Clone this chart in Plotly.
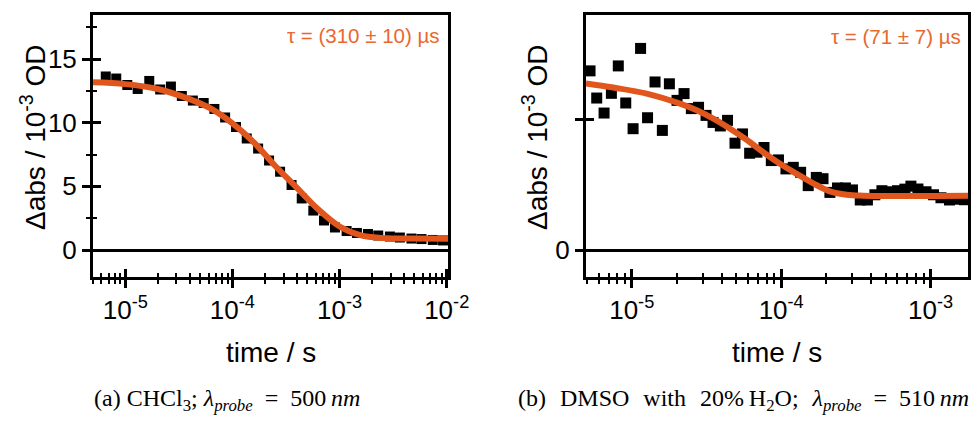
import math
import plotly.graph_objects as go

# ---------------- data ----------------
# (a) CHCl3, probe 500 nm
left_time = [6.58e-6, 8.24e-6, 1.045e-5, 1.306e-5, 1.675e-5, 2.118e-5, 2.667e-5, 3.373e-5,
             4.276e-5, 5.395e-5, 6.79e-5, 8.55e-5, 1.081e-4, 1.361e-4, 1.738e-4, 2.198e-4,
             2.786e-4, 3.565e-4, 4.436e-4, 5.689e-4, 7.161e-4, 9.057e-4, 1.164e-3, 1.452e-3,
             1.841e-3, 2.296e-3, 2.951e-3, 3.656e-3, 4.688e-3, 5.821e-3, 7.413e-3, 9.247e-3]
left_abs = [13.63, 13.47, 12.96, 12.65, 13.28, 12.61, 12.84, 12.10,
            11.74, 11.55, 11.08, 10.41, 9.66, 8.76, 7.97, 7.03,
            6.15, 5.11, 4.05, 3.10, 2.32, 1.77, 1.49, 1.34,
            1.26, 1.14, 1.06, 0.98, 0.90, 0.86, 0.79, 0.75]
left_fit_time = [5.0e-6, 1.0e-5, 2.0e-5, 3.98e-5, 6.31e-5, 1.0e-4, 1.585e-4, 2.512e-4,
                 3.981e-4, 6.31e-4, 1.0e-3, 1.585e-3, 2.512e-3, 5.01e-3, 1.03e-2]
left_fit_abs = [13.17, 13.03, 12.65, 11.85, 11.1, 9.95, 8.45, 6.6,
                4.9, 3.2, 1.85, 1.15, 0.95, 0.90, 0.89]

# (b) DMSO with 20% H2O, probe 510 nm
right_time = [5.26e-6, 5.83e-6, 6.53e-6, 7.31e-6, 8.13e-6, 9.12e-6, 1.021e-5, 1.146e-5,
              1.276e-5, 1.432e-5, 1.603e-5, 1.786e-5, 2.009e-5, 2.239e-5, 2.506e-5, 2.799e-5,
              3.141e-5, 3.499e-5, 3.917e-5, 4.375e-5, 4.909e-5, 5.508e-5, 6.152e-5, 6.887e-5,
              7.674e-5, 8.59e-5, 9.59e-5, 1.076e-4, 1.205e-4, 1.349e-4, 1.517e-4, 1.718e-4,
              1.905e-4, 2.118e-4, 2.382e-4, 2.692e-4, 2.999e-4, 3.381e-4, 3.776e-4, 4.236e-4,
              4.721e-4, 5.346e-4, 5.998e-4, 6.73e-4, 7.379e-4, 8.222e-4, 9.311e-4, 1.045e-3,
              1.172e-3, 1.337e-3, 1.500e-3, 1.683e-3]
right_abs = [1.374, 1.166, 1.051, 1.202, 1.412, 1.128, 0.931, 1.546,
             1.015, 1.289, 0.918, 1.275, 1.148, 1.200, 1.085, 1.095,
             1.033, 0.979, 0.952, 0.995, 0.820, 0.891, 0.743, 0.751,
             0.787, 0.687, 0.692, 0.623, 0.635, 0.597, 0.495, 0.558,
             0.548, 0.443, 0.477, 0.477, 0.462, 0.385, 0.385, 0.425,
             0.456, 0.448, 0.456, 0.468, 0.491, 0.469, 0.448, 0.425,
             0.402, 0.385, 0.391, 0.387]
right_fit_time = [4.94e-6, 7.53e-6, 1.259e-5, 2.104e-5, 2.723e-5, 3.516e-5, 4.55e-5, 5.875e-5,
                  7.586e-5, 9.817e-5, 1.271e-4, 1.641e-4, 2.118e-4, 2.742e-4, 3.54e-4, 1.78e-3]
right_fit_abs = [1.277, 1.246, 1.200, 1.123, 1.072, 1.008, 0.931, 0.846,
                 0.751, 0.662, 0.585, 0.512, 0.451, 0.425, 0.418, 0.418]

left_xticks = [1e-5, 1e-4, 1e-3, 1e-2]
left_xticktext = ["10<sup>-5</sup>", "10<sup>-4</sup>", "10<sup>-3</sup>", "10<sup>-2</sup>"]
right_xticks = [1e-5, 1e-4, 1e-3]
right_xticktext = ["10<sup>-5</sup>", "10<sup>-4</sup>", "10<sup>-3</sup>"]
left_yticks = [0, 5, 10, 15]
left_yminor = [2.5, 7.5, 12.5, 17.5]
right_yticks = [0, 1]
right_yticktext = ["0", ""]

left_label = "τ = (310 ± 10) µs"
right_label = "τ = (71 ± 7) µs"
ytitle = "Δabs / 10<sup>-3</sup> OD"
xtitle = "time / s"
NB = "\u00a0\u00a0\u200a"
caption_a = "(a) CHCl<sub>3</sub>; <i>λ<sub>probe</sub></i>\u2002=\u2002500\u2009<i>nm</i>"
caption_b = ("(b)" + NB + "DMSO" + NB + "with" + NB + "20%\u2009H<sub>2</sub>O;" + NB
             + "<i>λ<sub>probe</sub></i>\u2002=\u2002510\u2009<i>nm</i>")

# ---------------- styling ----------------
W, H = 973, 421
ORANGE = "#E1561D"
TXT_ORANGE = "#E9682E"
SANS = "Liberation Sans, Arial, sans-serif"
SERIF = "Liberation Serif, Times New Roman, serif"


def px(x):
    return x / W


def py(y):
    return 1 - y / H


def minor_log(lo, hi):
    vals = []
    for e in range(-7, 0):
        for k in range(2, 10):
            v = k * 10.0 ** e
            if lo < v < hi:
                vals.append(v)
    return vals


lx_range = [math.log10(5.0e-6), -1.988]
rx_range = [-5.306, -2.75]
ly_range = [-2.12, 18.46]
ry_range = [-0.205, 1.802]
ydom = [1 - 277 / H, 1 - 15 / H]
lxdom = [93 / W, 448 / W]
rxdom = [586 / W, 968 / W]

fig = go.Figure()
fig.add_trace(go.Scatter(x=left_time, y=left_abs, mode="markers", cliponaxis=False,
                         marker=dict(symbol="square", size=10, color="black"),
                         xaxis="x", yaxis="y", showlegend=False))
fig.add_trace(go.Scatter(x=left_fit_time, y=left_fit_abs, mode="lines",
                         line=dict(color=ORANGE, width=6, shape="spline"),
                         xaxis="x", yaxis="y", showlegend=False))
fig.add_trace(go.Scatter(x=right_time, y=right_abs, mode="markers", cliponaxis=False,
                         marker=dict(symbol="square", size=11, color="black"),
                         xaxis="x2", yaxis="y2", showlegend=False))
fig.add_trace(go.Scatter(x=right_fit_time, y=right_fit_abs, mode="lines",
                         line=dict(color=ORANGE, width=6, shape="spline"),
                         xaxis="x2", yaxis="y2", showlegend=False))
# carriers for the inner tick overlays
fig.add_trace(go.Scatter(x=[None], y=[None], xaxis="x3", yaxis="y3", showlegend=False, hoverinfo="skip"))
fig.add_trace(go.Scatter(x=[None], y=[None], xaxis="x4", yaxis="y4", showlegend=False, hoverinfo="skip"))

tickfont = dict(family=SANS, size=26, color="black")
common = dict(showgrid=False, tickcolor="black", tickwidth=2.5, automargin=False)


def xaxis_main(dom, rng, tv, tt, anchor, lo, hi):
    return dict(type="log", domain=dom, range=rng, anchor=anchor, showline=True, linewidth=3,
                linecolor="black", mirror=True, ticks="outside", ticklen=8, tickmode="array",
                tickvals=tv, ticktext=tt, tickfont=tickfont, zeroline=False,
                minor=dict(tickmode="array", tickvals=minor_log(lo, hi), ticks="outside",
                           ticklen=4, tickwidth=2, tickcolor="black", showgrid=False),
                **common)


def xaxis_inner(over, rng, tv, anchor, lo, hi):
    return dict(type="log", overlaying=over, range=rng, anchor=anchor, showline=False,
                ticks="inside", ticklen=8, tickmode="array", tickvals=tv,
                showticklabels=False, zeroline=False,
                minor=dict(tickmode="array", tickvals=minor_log(lo, hi), ticks="inside",
                           ticklen=4, tickwidth=2, tickcolor="black", showgrid=False),
                **common)


fig.update_layout(
    template="none",
    width=W, height=H, autosize=False, margin=dict(l=0, r=0, t=0, b=0, pad=0),
    paper_bgcolor="white", plot_bgcolor="white", showlegend=False,
    xaxis=xaxis_main(lxdom, lx_range, left_xticks, left_xticktext, "y", 4.9e-6, 1.03e-2),
    xaxis2=xaxis_main(rxdom, rx_range, right_xticks, right_xticktext, "y2", 4.9e-6, 1.78e-3),
    xaxis3=xaxis_inner("x", lx_range, left_xticks, "y", 4.9e-6, 1.03e-2),
    xaxis4=xaxis_inner("x2", rx_range, right_xticks, "y2", 4.9e-6, 1.78e-3),
    yaxis=dict(domain=ydom, range=ly_range, anchor="x", showline=True, linewidth=3,
               linecolor="black", mirror=True, ticks="outside", ticklen=8, tickmode="array",
               tickvals=left_yticks, tickfont=tickfont, zeroline=True, zerolinecolor="black",
               zerolinewidth=2.5,
               minor=dict(tickmode="array", tickvals=left_yminor, ticks="outside", ticklen=4,
                          tickwidth=2, tickcolor="black", showgrid=False),
               **common),
    yaxis2=dict(domain=ydom, range=ry_range, anchor="x2", showline=True, linewidth=3,
                linecolor="black", mirror=True, ticks="outside", ticklen=8, tickmode="array",
                tickvals=right_yticks, ticktext=right_yticktext, tickfont=tickfont,
                zeroline=True, zerolinecolor="black", zerolinewidth=2.5, **common),
    yaxis3=dict(overlaying="y", range=ly_range, anchor="x", side="left", showline=False,
                ticks="inside", ticklen=8, tickmode="array", tickvals=left_yticks,
                showticklabels=False, zeroline=False,
                minor=dict(tickmode="array", tickvals=left_yminor, ticks="inside", ticklen=4,
                           tickwidth=2, tickcolor="black", showgrid=False),
                **common),
    yaxis4=dict(overlaying="y2", range=ry_range, anchor="x2", side="left", showline=False,
                ticks="inside", ticklen=8, tickmode="array", tickvals=right_yticks,
                showticklabels=False, zeroline=False, **common),
)

ann = []
for xc in (33, 535):
    ann.append(dict(x=px(xc), y=py(137), xref="paper", yref="paper", text=ytitle, textangle=-90,
                    showarrow=False, xanchor="center", yanchor="middle",
                    font=dict(family=SANS, size=28, color="black")))
for xc in (270.5, 777):
    ann.append(dict(x=px(xc), y=py(352), xref="paper", yref="paper", text=xtitle,
                    showarrow=False, xanchor="center", yanchor="middle",
                    font=dict(family=SANS, size=28, color="black")))
ann.append(dict(x=px(442), y=py(35), xref="paper", yref="paper", text=left_label, showarrow=False,
                xanchor="right", yanchor="middle", font=dict(family=SANS, size=20.5, color=TXT_ORANGE)))
ann.append(dict(x=px(963), y=py(37), xref="paper", yref="paper", text=right_label, showarrow=False,
                xanchor="right", yanchor="middle", font=dict(family=SANS, size=20.5, color=TXT_ORANGE)))
ann.append(dict(x=px(227), y=py(400), xref="paper", yref="paper", text=caption_a, showarrow=False,
                xanchor="center", yanchor="middle", font=dict(family=SERIF, size=24, color="black")))
ann.append(dict(x=px(743), y=py(400), xref="paper", yref="paper", text=caption_b, showarrow=False,
                xanchor="center", yanchor="middle", font=dict(family=SERIF, size=24, color="black")))
fig.update_layout(annotations=ann)

fig.write_html("out.html")
